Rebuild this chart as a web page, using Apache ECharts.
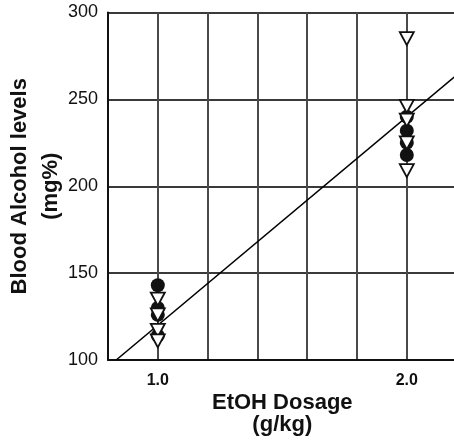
<!DOCTYPE html>
<html>
<head>
<meta charset="utf-8">
<script src="https://cdn.jsdelivr.net/npm/echarts@6/dist/echarts.min.js"></script>
<style>
  html, body { margin: 0; padding: 0; background: #fff; }
  #chart { width: 454px; height: 442px; }
</style>
</head>
<body>
<div id="chart"></div>
<script>
// EtOH dose (g/kg) for each group
const doses = [1.0, 2.0];

// filled circles, values at each dose (mg%)
const circlesAt1 = [143, 130, 126, 114];
const circlesAt2 = [240, 232, 225, 218];

// open down-triangles, values at each dose (mg%)
const trianglesAt1 = [135, 126, 117, 111];
const trianglesAt2 = [285, 246, 238, 225, 209];

// regression line end points
const fitX = [0.833, 2.2];
const fitY = [100, 264];

const xLabels = ['1.0', '2.0'];

const chart = echarts.init(document.getElementById('chart'));

const font = '"Liberation Sans", Arial, Helvetica, sans-serif';

function pairs(x, ys) {
    return ys.map(v => [x, v]);
}

chart.setOption({
    animation: false,
    backgroundColor: '#fff',
    textStyle: { fontFamily: font },
    grid: { left: 108, top: 12.5, width: 348.6, height: 347.5, containLabel: false, outerBoundsMode: 'none' },
    xAxis: {
        type: 'value',
        min: 0.8,
        max: 2.2,
        interval: 0.2,
        name: 'EtOH Dosage\n(g/kg)',
        nameLocation: 'middle',
        nameGap: 32,
        nameMoveOverlap: false,
        nameTextStyle: { fontSize: 22, fontWeight: 'bold', color: '#111', lineHeight: 22, fontFamily: font },
        axisLine: { lineStyle: { color: '#111', width: 2 } },
        axisTick: { show: false },
        axisLabel: {
            margin: 13,
            fontSize: 16,
            fontWeight: 'bold',
            color: '#111',
            fontFamily: font,
            formatter: v => {
                const s = v.toFixed(1);
                return xLabels.includes(s) ? s : '';
            }
        },
        splitLine: { show: true, lineStyle: { color: '#4a4a4a', width: 2 } }
    },
    yAxis: {
        type: 'value',
        min: 100,
        max: 300,
        interval: 50,
        name: 'Blood Alcohol levels\n(mg%)',
        nameLocation: 'middle',
        nameRotate: 90,
        nameGap: 42,
        nameMoveOverlap: false,
        nameTextStyle: { fontSize: 22, fontWeight: 'bold', color: '#111', lineHeight: 31, fontFamily: font },
        axisLine: { show: true, lineStyle: { color: '#111', width: 2 } },
        axisTick: { show: false },
        axisLabel: { margin: 10, fontSize: 18, color: '#111', fontFamily: font },
        splitLine: { show: true, lineStyle: { color: '#3a3a3a', width: 2 } }
    },
    series: [
        {
            type: 'line',
            data: fitX.map((x, i) => [x, fitY[i]]),
            symbol: 'none',
            lineStyle: { color: '#000', width: 1.6 },
            clip: true,
            z: 3
        },
        {
            type: 'scatter',
            data: pairs(doses[0], circlesAt1).concat(pairs(doses[1], circlesAt2)),
            symbol: 'circle',
            symbolSize: 14,
            itemStyle: { color: '#111', opacity: 1 },
            z: 4
        },
        {
            type: 'scatter',
            data: pairs(doses[0], trianglesAt1).concat(pairs(doses[1], trianglesAt2)),
            symbol: 'triangle',
            symbolRotate: 180,
            symbolSize: [14, 13],
            itemStyle: { color: '#fff', borderColor: '#111', borderWidth: 1.8, opacity: 1 },
            z: 5
        }
    ]
});
</script>
</body>
</html>
